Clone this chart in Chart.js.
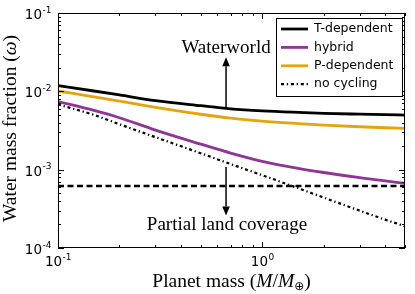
<!DOCTYPE html>
<html>
<head>
<meta charset="utf-8">
<script src="https://cdn.jsdelivr.net/npm/chart.js@4"></script>
<style>
	html, body { margin: 0; padding: 0; background: #fff; }
</style>
</head>
<body>
<canvas id="chart-water" width="415" height="294"></canvas>
<script>
// planet mass in Earth masses, water mass fraction per cycling model
const planetMass = [0.1, 0.15, 0.2, 0.3, 0.5, 0.7, 1, 1.5, 2, 3, 4, 5];
const tDependent = [0.0118, 0.0101, 0.0090, 0.00762, 0.00655, 0.00598, 0.00563, 0.00538, 0.00524, 0.00511, 0.00503, 0.00498];
const hybrid     = [0.0074, 0.0057, 0.0046, 0.0032, 0.00212, 0.00163, 0.00128, 0.00104, 0.00092, 0.00079, 0.00072, 0.00067];
const pDependent = [0.0101, 0.0085, 0.0075, 0.00624, 0.0051, 0.00455, 0.00417, 0.00388, 0.00371, 0.00353, 0.00343, 0.00337];
const noCycling  = [0.0068, 0.0050, 0.0038, 0.0026, 0.00162, 0.00118, 0.00085, 0.00058, 0.00044, 0.00030, 0.00023, 0.00019];
const landLimit = 6.2e-4;

const seriesLabels = ['T-dependent', 'hybrid', 'P-dependent', 'no cycling'];
const xTickValues = [0.1, 1];
const xTickExponents = ['-1', '0'];
const yTickValues = [1e-4, 1e-3, 1e-2, 1e-1];
const yTickExponents = ['-4', '-3', '-2', '-1'];

const pts = ys => planetMass.map((x, i) => ({ x: x, y: ys[i] }));
const serif = '"Liberation Serif", serif';
const sans = '"DejaVu Sans", sans-serif';

function mixedText(ctx, parts, cx, y) {
	let w = 0;
	parts.forEach(p => { ctx.font = p.font; w += ctx.measureText(p.t).width; });
	let x = cx - w / 2;
	parts.forEach(p => {
		ctx.font = p.font;
		ctx.fillText(p.t, x, y + (p.dy || 0));
		x += ctx.measureText(p.t).width;
	});
	return w;
}

// "10" with a raised exponent; align: 'center' or 'right'
function powerLabel(ctx, exp, x, baseY, align) {
	ctx.font = '13.5px ' + sans;
	const wb = ctx.measureText('10').width;
	ctx.font = '9px ' + sans;
	const we = ctx.measureText(exp).width;
	const left = align === 'right' ? x - wb - we : x - (wb + we) / 2;
	ctx.font = '13.5px ' + sans;
	ctx.fillText('10', left, baseY);
	ctx.font = '9px ' + sans;
	ctx.fillText(exp, left + wb + 0.5, baseY - 6.5);
}

function arrow(ctx, x, y0, y1) {
	const dir = y1 < y0 ? -1 : 1;
	const head = 9;
	ctx.beginPath();
	ctx.moveTo(x, y0);
	ctx.lineTo(x, y1 - dir * head);
	ctx.lineWidth = 1.5;
	ctx.strokeStyle = '#000';
	ctx.stroke();
	ctx.beginPath();
	ctx.moveTo(x, y1);
	ctx.lineTo(x - 3.8, y1 - dir * head);
	ctx.lineTo(x + 3.8, y1 - dir * head);
	ctx.closePath();
	ctx.fillStyle = '#000';
	ctx.fill();
}

const decorations = {
	id: 'decorations',
	afterDraw(chart) {
		const ctx = chart.ctx;
		const a = chart.chartArea;
		const xs = chart.scales.x, ys = chart.scales.y;
		ctx.save();

		// frame
		ctx.strokeStyle = '#000';
		ctx.lineWidth = 1;
		ctx.strokeRect(Math.round(a.left) + 0.5, Math.round(a.top) + 0.5,
			Math.round(a.right - a.left) - 1, Math.round(a.bottom - a.top) - 1);

		// inward ticks on all four sides
		const xMinor = [0.2, 0.3, 0.4, 0.5, 0.6, 0.7, 0.8, 0.9, 2, 3, 4, 5];
		const yMinor = [];
		[1e-4, 1e-3, 1e-2].forEach(d => { for (let k = 2; k <= 9; k++) yMinor.push(k * d); });
		ctx.beginPath();
		const tx = (v, len) => {
			const p = Math.round(xs.getPixelForValue(v)) + 0.5;
			ctx.moveTo(p, a.bottom); ctx.lineTo(p, a.bottom - len);
			ctx.moveTo(p, a.top); ctx.lineTo(p, a.top + len);
		};
		const ty = (v, len) => {
			const p = Math.round(ys.getPixelForValue(v)) + 0.5;
			ctx.moveTo(a.left, p); ctx.lineTo(a.left + len, p);
			ctx.moveTo(a.right, p); ctx.lineTo(a.right - len, p);
		};
		xTickValues.forEach(v => tx(v, 6));
		xMinor.forEach(v => tx(v, 3));
		yTickValues.forEach(v => ty(v, 6));
		yMinor.forEach(v => ty(v, 3));
		ctx.stroke();

		// tick labels
		ctx.fillStyle = '#000';
		ctx.textBaseline = 'alphabetic';
		xs.ticks.forEach((t, i) => powerLabel(ctx, xTickExponents[i], xs.getPixelForValue(t.value), a.bottom + 18, 'center'));
		ys.ticks.forEach((t, i) => powerLabel(ctx, yTickExponents[i], a.left - 7, ys.getPixelForValue(t.value) + 6, 'right'));

		// annotations
		const ax = xs.getPixelForValue(0.665);
		arrow(ctx, ax, ys.getPixelForValue(0.0061), ys.getPixelForValue(0.0272));
		arrow(ctx, ax, ys.getPixelForValue(0.00108), ys.getPixelForValue(0.00026));
		ctx.fillStyle = '#000';
		mixedText(ctx, [{ t: 'Waterworld', font: '19px ' + serif }], ax, 53);
		mixedText(ctx, [{ t: 'Partial land coverage', font: '19px ' + serif }], ax + 1, 230);

		// legend
		const lx = 276, ly = 18, lw = 126, lh = 78;
		ctx.fillStyle = '#fff';
		ctx.fillRect(lx, ly, lw, lh);
		ctx.strokeStyle = '#000';
		ctx.lineWidth = 1;
		ctx.strokeRect(lx + 0.5, ly + 0.5, lw, lh);
		ctx.font = '12.5px ' + sans;
		ctx.textBaseline = 'middle';
		chart.data.datasets.slice(0, 4).forEach((ds, i) => {
			const y = ly + 11 + i * 18.4;
			ctx.beginPath();
			ctx.setLineDash(ds.borderDash || []);
			ctx.strokeStyle = ds.borderColor;
			ctx.lineWidth = ds.borderWidth;
			ctx.moveTo(lx + 5, y);
			ctx.lineTo(lx + 32, y);
			ctx.stroke();
			ctx.setLineDash([]);
			ctx.fillStyle = '#000';
			ctx.fillText(ds.label, lx + 38, y);
		});

		// axis titles
		ctx.textBaseline = 'alphabetic';
		ctx.fillStyle = '#000';
		mixedText(ctx, [
			{ t: 'Planet mass (', font: '19.5px ' + serif },
			{ t: 'M', font: 'italic 19.5px ' + serif },
			{ t: '/', font: '19.5px ' + serif },
			{ t: 'M', font: 'italic 19.5px ' + serif },
			{ t: '⊕', font: '12px ' + sans, dy: 3 },
			{ t: ')', font: '19.5px ' + serif }
		], (a.left + a.right) / 2, 287);
		ctx.translate(16, (a.top + a.bottom) / 2 - 2);
		ctx.rotate(-Math.PI / 2);
		mixedText(ctx, [
			{ t: 'Water mass fraction (', font: '19.5px ' + serif },
			{ t: 'ω', font: 'italic 19.5px ' + serif },
			{ t: ')', font: '19.5px ' + serif }
		], 0, 0);
		ctx.restore();
	}
};

const ctx = document.getElementById('chart-water').getContext('2d');
const myChart = new Chart(ctx, {
	type: 'line',
	data: {
		datasets: [
			{ label: seriesLabels[0], data: pts(tDependent), borderColor: '#000000', borderWidth: 2.8 },
			{ label: seriesLabels[1], data: pts(hybrid), borderColor: '#8e3596', borderWidth: 2.8 },
			{ label: seriesLabels[2], data: pts(pDependent), borderColor: '#e6a40c', borderWidth: 2.8 },
			{ label: seriesLabels[3], data: pts(noCycling), borderColor: '#000000', borderWidth: 2.2, borderDash: [3, 2.8, 1.3, 2.8] },
			{ label: 'limit', data: [{ x: 0.1, y: landLimit }, { x: 5, y: landLimit }], borderColor: '#000000', borderWidth: 2.5, borderDash: [6, 3.5] }
		]
	},
	options: {
		responsive: false,
		animation: false,
		layout: { padding: { top: 13, right: 10, left: 0, bottom: 0 } },
		elements: {
			point: { radius: 0 },
			line: { cubicInterpolationMode: 'monotone', fill: false }
		},
		plugins: {
			legend: { display: false },
			tooltip: { enabled: false }
		},
		scales: {
			x: {
				type: 'logarithmic',
				min: 0.1,
				max: 5,
				afterBuildTicks: s => { s.ticks = xTickValues.map(v => ({ value: v })); },
				afterFit: s => { s.height = 46; },
				grid: { display: false },
				border: { display: false },
				ticks: { display: false }
			},
			y: {
				type: 'logarithmic',
				min: 1e-4,
				max: 1e-1,
				afterBuildTicks: s => { s.ticks = yTickValues.map(v => ({ value: v })); },
				afterFit: s => { s.width = 58; },
				grid: { display: false },
				border: { display: false },
				ticks: { display: false }
			}
		}
	},
	plugins: [decorations]
});
</script>
</body>
</html>
